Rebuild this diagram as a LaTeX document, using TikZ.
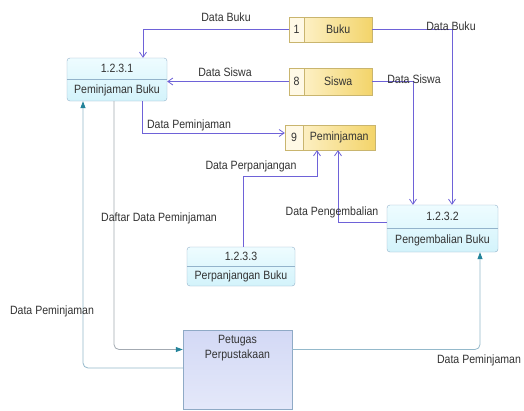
\documentclass[tikz,border=0pt]{standalone}
\usepackage{fontspec}
\setmainfont{Liberation Sans}[FakeStretch=0.88]
\usetikzlibrary{arrows.meta,calc}
\definecolor{flow}{HTML}{6E62D8}
\definecolor{procline}{HTML}{93B3CB}
\definecolor{proctop}{HTML}{EEFCFF}
\definecolor{procbot}{HTML}{D3F3FB}
\definecolor{storeline}{HTML}{C9B56E}
\definecolor{storeL}{HTML}{FFF6D8}
\definecolor{storeR}{HTML}{F3D46A}
\definecolor{numfill}{HTML}{FFF9E6}
\definecolor{extline}{HTML}{8FAAC6}
\definecolor{exttop}{HTML}{D3D9F5}
\definecolor{extbot}{HTML}{E4E8FA}
\definecolor{tealtip}{HTML}{23839A}
\definecolor{tealline}{HTML}{94B9CB}
\definecolor{grayline}{HTML}{A3AAB2}
\definecolor{txt}{HTML}{333333}
\tikzset{
  process/.style={draw=procline, rounded corners=3pt, top color=proctop,
    bottom color=procbot, inner sep=0pt},
  divider/.style={draw=procline},
  ptext/.style={text=txt, inner sep=0pt},
  store/.style={draw=storeline, left color=storeL, right color=storeR, inner sep=0pt},
  numcell/.style={draw=storeline, fill=numfill, inner sep=0pt, text=txt},
  extent/.style={draw=extline, top color=exttop, bottom color=extbot, inner sep=0pt},
  flowline/.style={draw=flow, line width=0.8pt, -{Straight Barb[length=5pt,width=7pt]}},
  tealflow/.style={draw=tealline, line width=0.8pt, rounded corners=5pt,
    -{Triangle[length=7pt,width=5pt,color=tealtip]}},
  grayflow/.style={draw=grayline, line width=0.8pt, rounded corners=5pt,
    -{Triangle[length=7pt,width=5pt,color=tealtip]}},
  lbl/.style={text=txt, inner sep=0pt}
}
\begin{document}
\begin{tikzpicture}[x=1pt, y=-1pt, font=\fontsize{12}{13}\selectfont]
\useasboundingbox[fill=white] (0,0) rectangle (524,410);

% processes
\node[process, minimum width=100pt, minimum height=43pt] (p1) at (117,79.5) {};
\draw[divider] (p1.west) -- (p1.east);
\node[ptext] (p1n) at ($(p1.center)!0.5!(p1.north)$) {1.2.3.1};
\node[ptext] (p1t) at ($(p1.center)!0.5!(p1.south)$) {Peminjaman Buku};

\node[process, minimum width=111pt, minimum height=47pt] (p2) at (442.5,228.5) {};
\draw[divider] (p2.west) -- (p2.east);
\node[ptext] (p2n) at ($(p2.center)!0.5!(p2.north)$) {1.2.3.2};
\node[ptext] (p2t) at ($(p2.center)!0.5!(p2.south)$) {Pengembalian Buku};

\node[process, minimum width=108pt, minimum height=39pt] (p3) at (241,266.5) {};
\draw[divider] (p3.west) -- (p3.east);
\node[ptext] (p3n) at ($(p3.center)!0.5!(p3.north)$) {1.2.3.3};
\node[ptext] (p3t) at ($(p3.center)!0.5!(p3.south)$) {Perpanjangan Buku};

% data stores
\node[store, minimum width=83pt, minimum height=25pt] (buku) at (330.5,29.5) {};
\node[numcell, minimum width=15pt, minimum height=25pt, anchor=west] (bukunum) at (buku.west) {1};
\node[ptext] (bukut) at ($(bukunum.east)!0.5!(buku.east)$) {Buku};

\node[store, minimum width=83pt, minimum height=27pt] (siswa) at (330.5,81.5) {};
\node[numcell, minimum width=15pt, minimum height=27pt, anchor=west] (siswanum) at (siswa.west) {8};
\node[ptext] (siswat) at ($(siswanum.east)!0.5!(siswa.east)$) {Siswa};

\node[store, minimum width=90pt, minimum height=25pt] (pem) at (330,137.5) {};
\node[numcell, minimum width=18pt, minimum height=25pt, anchor=west] (pemnum) at (pem.west) {9};
\node[ptext] (pemt) at ($(pemnum.east)!0.5!(pem.east)$) {Peminjaman};

% external entity
\node[extent, minimum width=109pt, minimum height=79pt] (pet) at (237.5,369.5) {};
\node[ptext, anchor=north, align=center, font=\fontsize{12}{15}\selectfont]
  (pett) at ([yshift=-5pt]pet.north) {Petugas\\Perpustakaan};

% data flows
\draw[flowline] (buku.west) -| ([xshift=26pt]p1.north);
\draw[flowline] (buku.east) -| ([xshift=9.5pt]p2.north);
\draw[flowline] (siswa.west) -- (siswa.west -| p1.east);
\draw[flowline] (siswa.east) -| ([xshift=-29.5pt]p2.north);
\draw[flowline] ([xshift=25pt]p1.south) |- ([yshift=4.5pt]pem.west);
\coordinate (bend6) at (317,176);
\draw[flowline] ([xshift=2pt]p3.north) |- (bend6) -- (bend6 |- pem.south);
\draw[flowline] ([yshift=6.5pt]p2.west) -| ([xshift=8pt]pem.south);
\draw[grayflow] ([xshift=-3pt]p1.south) |- ([yshift=20pt]pet.west);
\draw[tealflow] ([yshift=1.5pt]pet.west) -| ([xshift=-34pt]p1.south);
\draw[tealflow] ([yshift=20pt]pet.east) -| ([xshift=37.5pt]p2.south);

% flow labels
\node[lbl] (l1) at (226,17) {Data Buku};
\node[lbl] (l2) at (451,26) {Data Buku};
\node[lbl] (l3) at (225,72) {Data Siswa};
\node[lbl] (l4) at (414,79) {Data Siswa};
\node[lbl] (l5) at (189,125) {Data Peminjaman};
\node[lbl] (l6) at (251,166) {Data Perpanjangan};
\node[lbl] (l7) at (332,212) {Data Pengembalian};
\node[lbl] (l8) at (159,218) {Daftar Data Peminjaman};
\node[lbl] (l9) at (52,311) {Data Peminjaman};
\node[lbl] (l10) at (479,360) {Data Peminjaman};
\end{tikzpicture}
\end{document}
